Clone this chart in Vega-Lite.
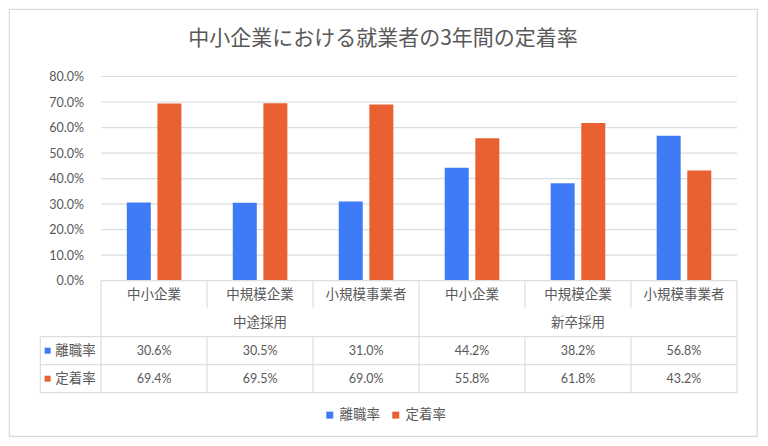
{
  "$schema": "https://vega.github.io/schema/vega-lite/v6.json",
  "width": 748,
  "height": 427,
  "autosize": {"type": "none"},
  "padding": {"left": 9, "top": 9, "right": 11, "bottom": 10},
  "background": "white",
  "config": {
    "view": {"stroke": "#D9D9D9", "strokeWidth": 1.2},
    "font": "Lato, Noto Sans CJK JP",
    "text": {"color": "#595959"}
  },
  "title": {
    "text": "中小企業における就業者の3年間の定着率",
    "font": "Noto Sans CJK JP",
    "fontSize": 21,
    "fontWeight": "normal",
    "color": "#595959",
    "anchor": "middle",
    "baseline": "middle",
    "offset": -51
  },
  "datasets": {
    "rates": [
      {"group": "中途採用", "cat": "中小企業", "col": 0, "series": "離職率", "value": 0.306},
      {"group": "中途採用", "cat": "中規模企業", "col": 1, "series": "離職率", "value": 0.305},
      {"group": "中途採用", "cat": "小規模事業者", "col": 2, "series": "離職率", "value": 0.310},
      {"group": "新卒採用", "cat": "中小企業", "col": 3, "series": "離職率", "value": 0.442},
      {"group": "新卒採用", "cat": "中規模企業", "col": 4, "series": "離職率", "value": 0.382},
      {"group": "新卒採用", "cat": "小規模事業者", "col": 5, "series": "離職率", "value": 0.568},
      {"group": "中途採用", "cat": "中小企業", "col": 0, "series": "定着率", "value": 0.694},
      {"group": "中途採用", "cat": "中規模企業", "col": 1, "series": "定着率", "value": 0.695},
      {"group": "中途採用", "cat": "小規模事業者", "col": 2, "series": "定着率", "value": 0.690},
      {"group": "新卒採用", "cat": "中小企業", "col": 3, "series": "定着率", "value": 0.558},
      {"group": "新卒採用", "cat": "中規模企業", "col": 4, "series": "定着率", "value": 0.618},
      {"group": "新卒採用", "cat": "小規模事業者", "col": 5, "series": "定着率", "value": 0.432}
    ],
    "ticks": [{"v": 0.1}, {"v": 0.2}, {"v": 0.3}, {"v": 0.4}, {"v": 0.5}, {"v": 0.6}, {"v": 0.7}, {"v": 0.8}],
    "tableLines": [
      {"x": -0.5, "x2": 5.5, "y": 0, "y2": 0},
      {"x": -1.0736, "x2": 5.5, "y": 2, "y2": 2},
      {"x": -1.0736, "x2": 5.5, "y": 3, "y2": 3},
      {"x": -1.0736, "x2": 5.5, "y": 4, "y2": 4},
      {"x": -1.0736, "x2": -1.0736, "y": 2, "y2": 4},
      {"x": -0.5, "x2": -0.5, "y": 0, "y2": 4},
      {"x": 2.5, "x2": 2.5, "y": 0, "y2": 4},
      {"x": 5.5, "x2": 5.5, "y": 0, "y2": 4},
      {"x": 0.5, "x2": 0.5, "y": 0, "y2": 0.96},
      {"x": 1.5, "x2": 1.5, "y": 0, "y2": 0.96},
      {"x": 3.5, "x2": 3.5, "y": 0, "y2": 0.96},
      {"x": 4.5, "x2": 4.5, "y": 0, "y2": 0.96},
      {"x": 0.5, "x2": 0.5, "y": 2, "y2": 4},
      {"x": 1.5, "x2": 1.5, "y": 2, "y2": 4},
      {"x": 3.5, "x2": 3.5, "y": 2, "y2": 4},
      {"x": 4.5, "x2": 4.5, "y": 2, "y2": 4}
    ]
  },
  "layer": [
    {
      "layer": [
        {
          "data": {"name": "ticks"},
          "mark": {"type": "rule", "color": "#D9DEDE", "strokeWidth": 1.2},
          "encoding": {
            "x": {"datum": -0.5, "type": "quantitative", "scale": {"domain": [-1.322, 5.642], "nice": false, "zero": false}, "axis": null},
            "x2": {"datum": 5.5},
            "y": {
              "field": "v", "type": "quantitative",
              "scale": {"domain": [-0.6084, 1.0644], "nice": false, "zero": false},
              "axis": {
                "values": [0, 0.1, 0.2, 0.3, 0.4, 0.5, 0.6, 0.7, 0.8],
                "format": ".1%", "grid": false, "domain": false, "ticks": false,
                "labelPadding": 4, "offset": -78.5, "title": null,
                "labelFont": "Lato", "labelFontSize": 12.5, "labelColor": "#595959"
              }
            }
          }
        },
        {
          "data": {"name": "rates"},
          "transform": [{"filter": "datum.series === '離職率'"}],
          "mark": {"type": "bar", "orient": "vertical", "width": 24, "xOffset": -15.3},
          "encoding": {
            "x": {"field": "col", "type": "quantitative", "axis": null},
            "y": {
              "field": "value", "type": "quantitative",
              "axis": {
                "values": [0, 0.1, 0.2, 0.3, 0.4, 0.5, 0.6, 0.7, 0.8],
                "format": ".1%", "grid": false, "domain": false, "ticks": false,
                "labelPadding": 4, "offset": -78.5, "title": null,
                "labelFont": "Lato", "labelFontSize": 12.5, "labelColor": "#595959"
              }
            },
            "color": {
              "field": "series", "type": "nominal",
              "scale": {"domain": ["離職率", "定着率"], "range": ["#3F7BF6", "#EA6131"]},
              "legend": {
                "orient": "none", "legendX": 314, "legendY": 399, "direction": "horizontal",
                "title": null, "symbolType": "square", "symbolSize": 49, "symbolStrokeWidth": 0,
                "labelFont": "Noto Sans CJK JP", "labelFontSize": 13.5, "labelColor": "#595959",
                "labelOffset": 3, "columnPadding": 9, "padding": 0
              }
            }
          }
        },
        {
          "data": {"name": "rates"},
          "transform": [{"filter": "datum.series === '定着率'"}],
          "mark": {"type": "bar", "orient": "vertical", "width": 24, "xOffset": 15.3},
          "encoding": {
            "x": {"field": "col", "type": "quantitative", "axis": null},
            "y": {
              "field": "value", "type": "quantitative",
              "axis": {
                "values": [0, 0.1, 0.2, 0.3, 0.4, 0.5, 0.6, 0.7, 0.8],
                "format": ".1%", "grid": false, "domain": false, "ticks": false,
                "labelPadding": 4, "offset": -78.5, "title": null,
                "labelFont": "Lato", "labelFontSize": 12.5, "labelColor": "#595959"
              }
            },
            "color": {"field": "series", "type": "nominal"}
          }
        }
      ]
    },
    {
      "layer": [
        {
          "data": {"name": "tableLines"},
          "mark": {"type": "rule", "color": "#D9DEDE", "strokeWidth": 1.2},
          "encoding": {
            "x": {"field": "x", "type": "quantitative", "axis": null},
            "x2": {"field": "x2"},
            "y": {"field": "y", "type": "quantitative", "scale": {"domain": [0, 4], "range": [271.7, 383.7], "nice": false, "zero": false}, "axis": null},
            "y2": {"field": "y2"}
          }
        },
        {
          "data": {"name": "rates"},
          "transform": [{"filter": "datum.series === '離職率'"}],
          "mark": {"type": "text", "font": "Noto Sans CJK JP", "fontSize": 13.5, "baseline": "middle", "align": "center"},
          "encoding": {
            "x": {"field": "col", "type": "quantitative", "axis": null},
            "y": {"datum": 0.5, "type": "quantitative", "axis": null},
            "text": {"field": "cat"}
          }
        },
        {
          "data": {"name": "rates"},
          "transform": [{"aggregate": [{"op": "mean", "field": "col", "as": "center"}], "groupby": ["group"]}],
          "mark": {"type": "text", "font": "Noto Sans CJK JP", "fontSize": 13.5, "baseline": "middle", "align": "center"},
          "encoding": {
            "x": {"field": "center", "type": "quantitative", "axis": null},
            "y": {"datum": 1.5, "type": "quantitative", "axis": null},
            "text": {"field": "group"}
          }
        },
        {
          "data": {"name": "rates"},
          "transform": [{"filter": "datum.series === '離職率'"}],
          "mark": {"type": "text", "font": "Lato", "fontSize": 12.5, "baseline": "middle", "align": "center"},
          "encoding": {
            "x": {"field": "col", "type": "quantitative", "axis": null},
            "y": {"datum": 2.5, "type": "quantitative", "axis": null},
            "text": {"field": "value", "format": ".1%"}
          }
        },
        {
          "data": {"name": "rates"},
          "transform": [{"filter": "datum.series === '定着率'"}],
          "mark": {"type": "text", "font": "Lato", "fontSize": 12.5, "baseline": "middle", "align": "center"},
          "encoding": {
            "x": {"field": "col", "type": "quantitative", "axis": null},
            "y": {"datum": 3.5, "type": "quantitative", "axis": null},
            "text": {"field": "value", "format": ".1%"}
          }
        },
        {
          "data": {"name": "rates"},
          "transform": [{"filter": "datum.series === '離職率' && datum.col === 0"}],
          "mark": {"type": "text", "font": "Noto Sans CJK JP", "fontSize": 13.5, "baseline": "middle", "align": "left", "dx": 15},
          "encoding": {
            "x": {"datum": -1.0736, "type": "quantitative", "axis": null},
            "y": {"datum": 2.5, "type": "quantitative", "axis": null},
            "text": {"field": "series"}
          }
        },
        {
          "data": {"name": "rates"},
          "transform": [{"filter": "datum.series === '定着率' && datum.col === 0"}],
          "mark": {"type": "text", "font": "Noto Sans CJK JP", "fontSize": 13.5, "baseline": "middle", "align": "left", "dx": 15},
          "encoding": {
            "x": {"datum": -1.0736, "type": "quantitative", "axis": null},
            "y": {"datum": 3.5, "type": "quantitative", "axis": null},
            "text": {"field": "series"}
          }
        },
        {
          "data": {"name": "rates"},
          "transform": [{"filter": "datum.series === '離職率' && datum.col === 0"}],
          "mark": {"type": "point", "shape": "square", "filled": true, "size": 36, "xOffset": 7.3, "opacity": 1},
          "encoding": {
            "x": {"datum": -1.0736, "type": "quantitative", "axis": null},
            "y": {"datum": 2.5, "type": "quantitative", "axis": null},
            "color": {"field": "series", "type": "nominal"}
          }
        },
        {
          "data": {"name": "rates"},
          "transform": [{"filter": "datum.series === '定着率' && datum.col === 0"}],
          "mark": {"type": "point", "shape": "square", "filled": true, "size": 36, "xOffset": 7.3, "opacity": 1},
          "encoding": {
            "x": {"datum": -1.0736, "type": "quantitative", "axis": null},
            "y": {"datum": 3.5, "type": "quantitative", "axis": null},
            "color": {"field": "series", "type": "nominal"}
          }
        }
      ]
    }
  ],
  "resolve": {"scale": {"y": "independent"}}
}
